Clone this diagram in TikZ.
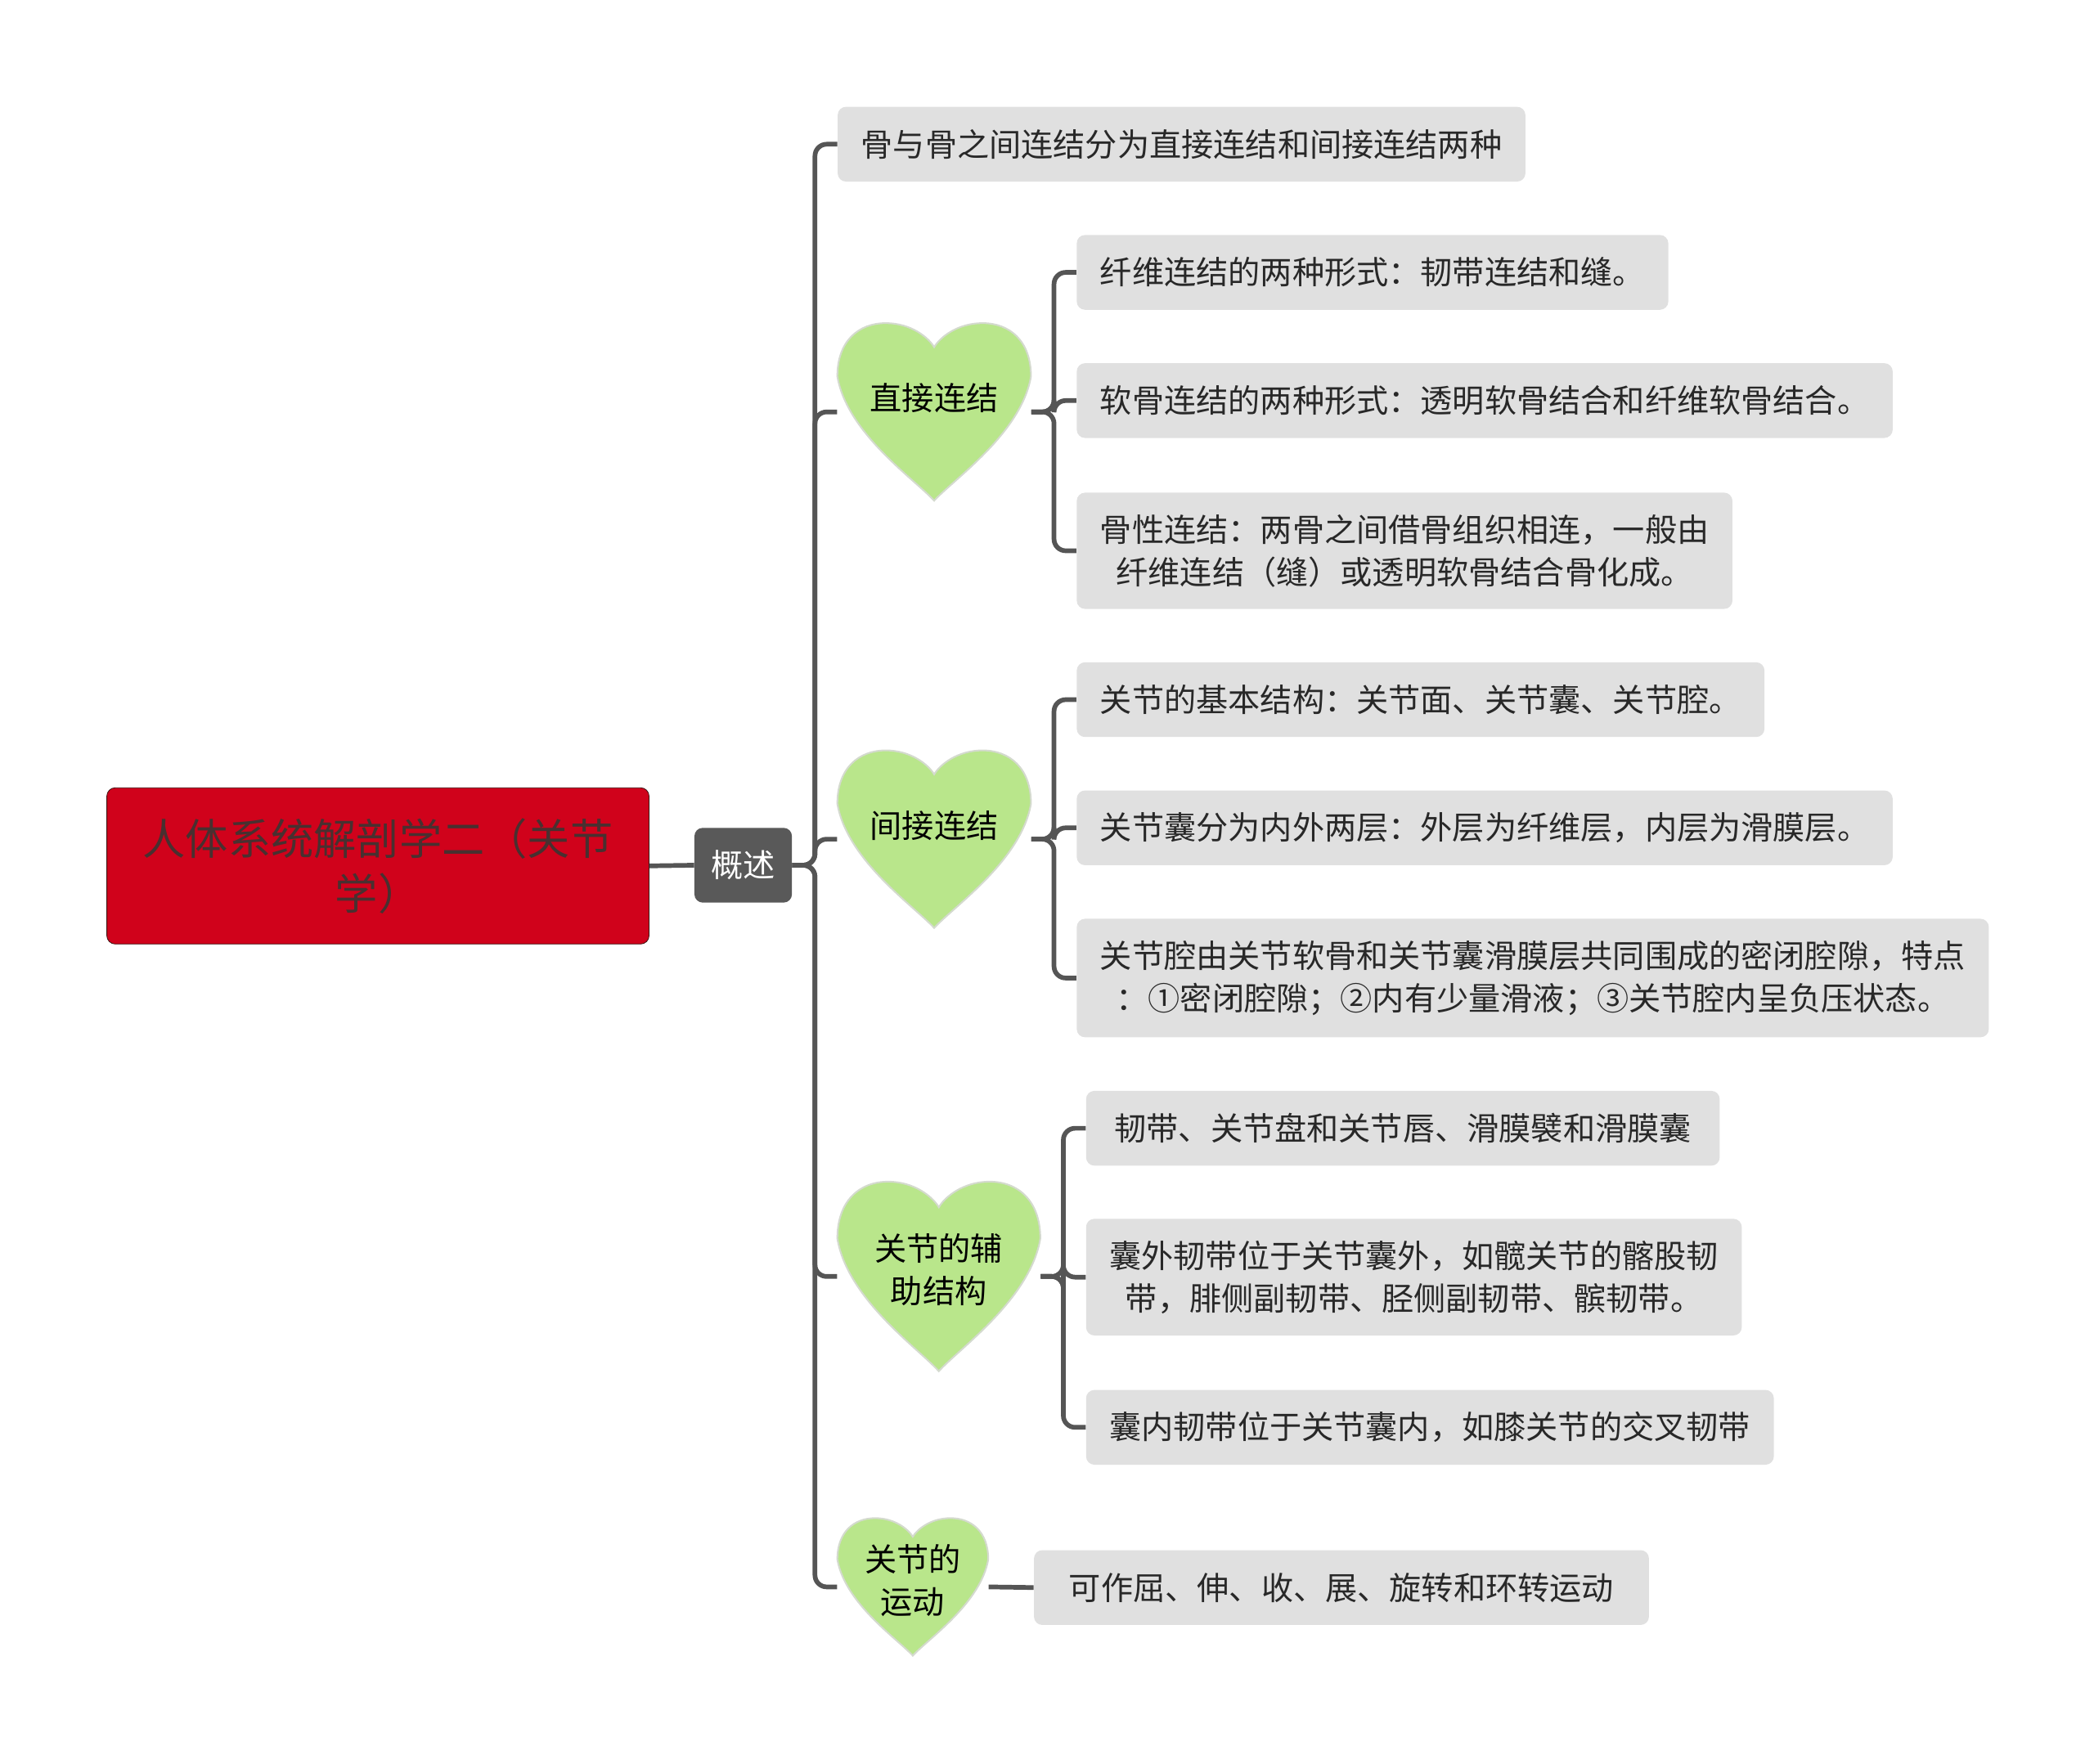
\documentclass[tikz,border=0pt]{standalone}
\usepackage{fontspec}
\setmainfont{Noto Sans CJK SC}
\usepackage{xcolor}
\usepackage{tikz}

\definecolor{rootred}{RGB}{208,2,27}
\definecolor{rootedge}{RGB}{60,20,20}
\definecolor{roottext}{RGB}{72,48,48}
\definecolor{hubgrey}{RGB}{89,89,89}
\definecolor{leafgrey}{RGB}{224,224,224}
\definecolor{leaftext}{RGB}{40,40,40}
\definecolor{heartgreen}{RGB}{185,230,139}
\definecolor{heartedge}{RGB}{212,218,206}
\definecolor{linkgrey}{RGB}{85,85,85}

\tikzset{
	pics/heart/.style 2 args={
		code={
			\path[fill=heartgreen, draw=heartedge, line width=1pt, x=#1, y=#2]
			(0,-1) .. controls (-0.2,-0.76) and (-0.9,-0.24) .. (-1,0.4)
			.. controls (-1,0.8) and (-0.78,1) .. (-0.5,1)
			.. controls (-0.24,1) and (-0.06,0.84) .. (0,0.73)
			.. controls (0.06,0.84) and (0.24,1) .. (0.5,1)
			.. controls (0.78,1) and (1,0.8) .. (1,0.4)
			.. controls (0.9,-0.24) and (0.2,-0.76) .. (0,-1) -- cycle;
		}
	}
}

\begin{document}
\begin{tikzpicture}
	[
	x=0.8pt, y=-0.8pt,
	rootbox/.style={
		draw=rootedge,
		fill=rootred,
		rounded corners=5pt,
		align=center,
		minimum width=324.8pt,
		minimum height=93.6pt,
		text=roottext,
		font=\fontsize{25.6}{32.8}\selectfont
	},
	hubbox/.style={
		fill=hubgrey,
		rounded corners=5pt,
		minimum width=58.4pt,
		minimum height=44.8pt,
		text=white,
		font=\fontsize{19.2}{25.6}\selectfont
	},
	leafbox/.style={
		fill=leafgrey,
		rounded corners=5pt,
		align=center,
		anchor=west,
		minimum height=44.8pt,
		inner xsep=14pt,
		inner ysep=13pt,
		text=leaftext,
		font=\fontsize{19.2}{25.6}\selectfont
	},
	heartbox/.style 2 args={
		minimum width=#1,
		minimum height=#2,
		inner sep=0pt,
		align=center,
		text=black,
		font=\fontsize{19.2}{25.6}\selectfont
	},
	link/.style={
		draw=linkgrey,
		line width=2.8pt,
		rounded corners=7pt
	}
	]
	
	\useasboundingbox (0,0) rectangle (1568,1321);
	
	% Root and hub
	\node[rootbox] (root) at (283,648.5)
	{人体系统解剖学二（关节\\学）};
	
	\node[hubbox] (overview) at (556.5,648)
	{概述};
	
	% Opening statement
	\node[leafbox] (bone_link) at (627,108)
	{骨与骨之间连结分为直接连结和间接连结两种};
	
	% Direct joints branch
	\pic at (699.5,308.5) {heart={58pt}{53.2pt}};
	\node[heartbox={116pt}{106.4pt}, text depth=18pt] (direct) at (699.5,308.5)
	{直接连结};
	
	\node[leafbox] (fibrous) at (806,204)
	{纤维连结的两种形式：韧带连结和缝。};
	
	\node[leafbox] (cartilage) at (806,300)
	{软骨连结的两种形式：透明软骨结合和纤维软骨结合。};
	
	\node[leafbox] (bony) at (806,412.5)
	{骨性连结：两骨之间借骨组织相连，一般由\\纤维连结（缝）或透明软骨结合骨化成。};
	
	% Indirect joints branch
	\pic at (699.5,628.5) {heart={58pt}{53.2pt}};
	\node[heartbox={116pt}{106.4pt}, text depth=18pt] (indirect) at (699.5,628.5)
	{间接连结};
	
	\node[leafbox] (basic_parts) at (806,524)
	{关节的基本结构：关节面、关节囊、关节腔。};
	
	\node[leafbox] (capsule) at (806,620)
	{关节囊分为内外两层：外层为纤维层，内层为滑膜层。};
	
	\node[leafbox] (cavity) at (806,732.5)
	{关节腔由关节软骨和关节囊滑膜层共同围成的密闭腔隙，特点\\：①密闭腔隙；②内有少量滑液；③关节腔内呈负压状态。};
	
	% Accessory structures branch
	\pic at (703,956) {heart={60.8pt}{56.8pt}};
	\node[heartbox={121.6pt}{113.6pt}, text depth=10pt] (accessory) at (703,956)
	{关节的辅\\助结构};
	
	\node[leafbox, inner xsep=17pt] (ligaments) at (813,845)
	{韧带、关节盘和关节唇、滑膜襞和滑膜囊};
	
	\node[leafbox] (extra_lig) at (813,956.5)
	{囊外韧带位于关节囊外，如髋关节的髂股韧\\带，腓侧副韧带、胫侧副韧带、髌韧带。};
	
	\node[leafbox] (intra_lig) at (813,1069)
	{囊内韧带位于关节囊内，如膝关节的交叉韧带};
	
	% Movement branch
	\pic at (683.5,1188.5) {heart={45.2pt}{41.2pt}};
	\node[heartbox={90.4pt}{82.4pt}, text depth=9.5pt] (motion) at (683.5,1188.5)
	{关节的\\运动};
	
	\node[leafbox, inner xsep=21pt] (movements) at (774,1189)
	{可作屈、伸、收、展、旋转和环转运动};
	
	% Connectors
	\draw[link] (root.east) -- (overview.west);
	
	\draw[link] (overview.east) -- ++(17,0) |- (bone_link.west);
	\draw[link] (overview.east) -- ++(17,0) |- (direct.west);
	\draw[link] (overview.east) -- ++(17,0) |- (indirect.west);
	\draw[link] (overview.east) -- ++(17,0) |- (accessory.west);
	\draw[link] (overview.east) -- ++(17,0) |- (motion.west);
	
	\draw[link] (direct.east) -- ++(17,0) |- (fibrous.west);
	\draw[link] (direct.east) -- ++(17,0) |- (cartilage.west);
	\draw[link] (direct.east) -- ++(17,0) |- (bony.west);
	
	\draw[link] (indirect.east) -- ++(17,0) |- (basic_parts.west);
	\draw[link] (indirect.east) -- ++(17,0) |- (capsule.west);
	\draw[link] (indirect.east) -- ++(17,0) |- (cavity.west);
	
	\draw[link] (accessory.east) -- ++(17,0) |- (ligaments.west);
	\draw[link] (accessory.east) -- ++(17,0) |- (extra_lig.west);
	\draw[link] (accessory.east) -- ++(17,0) |- (intra_lig.west);
	
	\draw[link] (motion.east) -- (movements.west);
	
\end{tikzpicture}
\end{document}
